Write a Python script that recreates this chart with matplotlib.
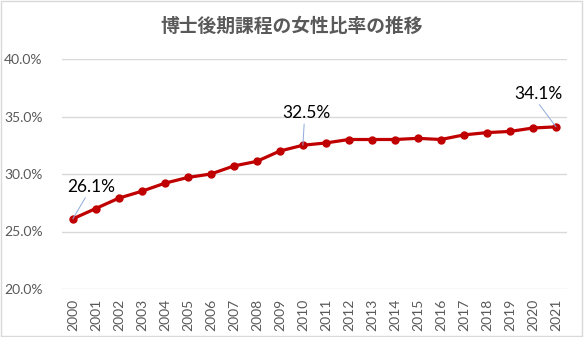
import matplotlib.pyplot as plt
from matplotlib.patches import Rectangle
from matplotlib.ticker import PercentFormatter

plt.rcParams['font.family'] = ['Lato', 'Noto Sans CJK JP', 'DejaVu Sans']

# women's share in doctoral programs, by year (%)
years = [str(y) for y in range(2000, 2022)]
ratio = [26.1, 27.0, 27.9, 28.5, 29.2, 29.7, 30.0, 30.7, 31.1, 32.0, 32.5,
         32.7, 33.0, 33.0, 33.0, 33.1, 33.0, 33.4, 33.6, 33.7, 34.0, 34.1]
# years whose value is written on the chart, with label offset in pixels
labelled = {'2000': (18, 32), '2010': (4, 32), '2021': (-18, 33)}

title = '博士後期課程の女性比率の推移'

fig = plt.figure(figsize=(5.84, 3.37), dpi=100)
ax = fig.add_axes([62 / 584, 1 - 289 / 337, 505 / 584, 230 / 337])

x = list(range(len(years)))
ax.plot(x, ratio, color='#C00000', lw=2.3, marker='o', ms=5, zorder=3)

ax.set_ylim(20, 40)
ax.set_yticks([20, 25, 30, 35, 40])
ax.yaxis.set_major_formatter(PercentFormatter(decimals=1))
ax.set_xlim(-0.47, len(years) - 0.52)
ax.set_xticks(x)
ax.set_xticklabels(years, rotation=90)
ax.grid(axis='y', color='#D9D9D9', lw=1)
ax.set_axisbelow(True)
for s in ax.spines.values():
    s.set_visible(False)
ax.tick_params(length=0, labelsize=10, labelcolor='#595959')
ax.tick_params(axis='x', pad=7)
ax.tick_params(axis='y', pad=14)

for yr, (dx, dy) in labelled.items():
    i = years.index(yr)
    ax.annotate(f'{ratio[i]:.1f}%', (i, ratio[i]), xytext=(dx, dy),
                textcoords='offset pixels', ha='center', va='center',
                fontsize=12.5, color='black',
                arrowprops=dict(arrowstyle='-', color='#8FAADC', lw=0.7,
                                shrinkA=0, shrinkB=0, relpos=(0.45, 0.15)))

fig.text(0.5, 1 - 26 / 337, title, ha='center', va='center',
         fontsize=13.5, color='#595959', weight='bold',
         family=['Noto Sans CJK JP'])

# outer chart frame
fig.add_artist(Rectangle((0.002, 0.003), 0.995, 0.994, transform=fig.transFigure,
                         fill=False, ec='#D9D9D9', lw=1))

fig.savefig('out.png', dpi=100)
